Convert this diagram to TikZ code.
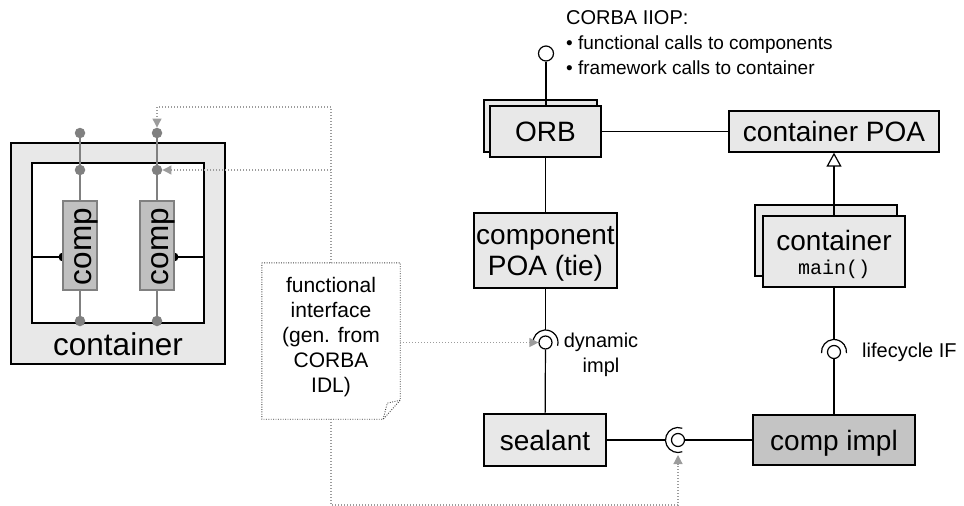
\documentclass[tikz,border=0pt]{standalone}
\usepackage{fontspec}
\setmainfont{Liberation Sans}
\newfontfamily\monofont{Liberation Mono}
\usetikzlibrary{arrows.meta,calc}
\definecolor{boxfill}{HTML}{E8E8E8}
\definecolor{darkfill}{HTML}{C4C4C4}
\definecolor{compfill}{HTML}{C0C0C0}
\definecolor{wire}{HTML}{808080}
\definecolor{hintc}{HTML}{9C9C9C}
\begin{document}
\begin{tikzpicture}[x=1pt,y=-1pt,
  box/.style={draw=black, line width=1.3pt, fill=boxfill, inner sep=0pt, align=center},
  onebox/.style={box, text height=20pt, text depth=0pt},
  bigf/.style={font=\fontsize{28}{31}\selectfont},
  hugef/.style={font=\fontsize{31.5}{34}\selectfont},
  smallf/.style={font=\fontsize{20}{25}\selectfont},
  notef/.style={font=\fontsize{21}{25}\selectfont},
  monof/.style={font=\monofont\fontsize{20}{22}\selectfont},
  conn/.style={draw=black, line width=1.2pt},
  wireline/.style={draw=wire, line width=2.8pt},
  dotn/.style={circle, fill=wire, minimum size=10.5pt, inner sep=0pt},
  ballst/.style={circle, draw=black, fill=white, line width=1.2pt, minimum size=13pt, inner sep=0pt},
  hint/.style={draw=hintc, line width=1.2pt, dash pattern=on 1.2pt off 1.8pt, -{Triangle[length=9pt,width=9pt]}},
  notedot/.style={draw=black!75, line width=0.9pt, dash pattern=on 0.9pt off 1.5pt},
  compbox/.style={draw=wire, line width=2pt, fill=compfill, minimum width=34pt, minimum height=89pt, inner sep=0pt},
  txt/.style={inner sep=0pt}]
\useasboundingbox (0,0) rectangle (964,506);

% ---------------- left: container with two components
\node[draw=black, line width=1.4pt, fill=boxfill, minimum width=214pt, minimum height=221pt, inner sep=0pt] (outer) at (118,253.5) {};
\node[draw=black, line width=1.3pt, fill=white, minimum width=172pt, minimum height=160pt, inner sep=0pt] (inner) at (118,243) {};
\node[hugef, txt, anchor=base] (contlabel) at (118,355) {container};
\coordinate (hl) at (0,257);
\coordinate (c1) at (80,245.5);
\coordinate (c2) at (157,245.5);
% horizontal links with half disks
\draw[conn] (inner.west |- hl) -- (63,257);
\fill (63,257) ++(0,-4.5) arc[start angle=-90, end angle=-270, radius=4.5] -- cycle;
\draw[conn] (inner.east |- hl) -- (174,257);
\fill (174,257) ++(0,-4.5) arc[start angle=-90, end angle=90, radius=4.5] -- cycle;
\node[compbox] (comp1) at (c1) {};
\node[compbox] (comp2) at (c2) {};
\node[hugef, txt, rotate=90, anchor=base] (comp1t) at (91,246.5) {comp};
\node[hugef, txt, rotate=90, anchor=base] (comp2t) at (168,246.5) {comp};
\node[dotn] (t1) at (80,133) {};
\node[dotn] (m1) at (80,170) {};
\node[dotn] (b1) at (80,321) {};
\node[dotn] (t2) at (157,133) {};
\node[dotn] (m2) at (157,170) {};
\node[dotn] (b2) at (157,321) {};
\draw[wireline] (t1) -- (m1);
\draw[wireline] (m1) -- (comp1.north);
\draw[wireline] (comp1.south) -- (b1);
\draw[wireline] (t2) -- (m2);
\draw[wireline] (m2) -- (comp2.north);
\draw[wireline] (comp2.south) -- (b2);

% ---------------- note
\node[minimum width=138pt, minimum height=156pt, inner sep=0pt] (note) at (331,341) {};
\draw[notedot] (note.north west) -- (note.north east) -- ([yshift=19pt]note.south east)
   -- ([xshift=-17pt]note.south east) -- (note.south west) -- cycle;
\draw[notedot] ([xshift=-17pt]note.south east) -- ([xshift=-13pt,yshift=16pt]note.south east) -- ([yshift=19pt]note.south east);
\node[notef, txt, align=center, anchor=north] (notetext) at (331,277.5) {functional\\interface\\(gen. from\\CORBA\\IDL)};

% ---------------- right: boxes
\node[box, minimum width=113pt, minimum height=52pt] (orbback) at (540.5,126) {};
\node[onebox, bigf, minimum width=111pt, minimum height=51pt] (orb) at (545.5,131.5) {ORB};
\node[onebox, bigf, minimum width=210pt, minimum height=41pt] (cpoa) at (834,131.5) {container POA};
\node[box, minimum width=143pt, minimum height=75pt] (compoa) at (545.5,250.5) {};
\node[bigf, txt, align=center] (compoat) at (545.5,254) {component\\POA (tie)};
\node[box, minimum width=142pt, minimum height=71pt] (contback) at (826,240.5) {};
\node[box, minimum width=142pt, minimum height=71pt] (cont) at (834,251.5) {};
\node[bigf, txt, anchor=base] (contt) at (834,250) {container};
\node[monof, txt, anchor=base] (contm) at (834,274) {main()};
\node[onebox, bigf, minimum width=122pt, minimum height=52pt] (sealant) at (545,440) {sealant};
\node[onebox, bigf, fill=darkfill, minimum width=162pt, minimum height=50pt] (impl) at (834,440) {comp impl};

% top lollipop
\node[circle, draw=black, fill=white, line width=1.2pt, minimum size=15pt, inner sep=0pt] (iiop) at (546,53.5) {};
\draw[conn] (iiop) -- (iiop |- orb.north);
\node[smallf, txt, anchor=north west, align=left] (iioptxt) at (566,10) {CORBA IIOP:\\{\fontsize{19}{25}\selectfont\textbullet\ functional calls to components}\\{\fontsize{19}{25}\selectfont\textbullet\ framework calls to container}};

% ORB links
\draw[conn] (orb) -- (cpoa);
\draw[conn] (orb) -- (compoa);
\draw[conn, -{Triangle[open, length=14pt, width=15pt]}] (cont.north) -- (cpoa.south);

% dynamic impl socket
\node[ballst] (dynball) at (545.5,342.5) {};
\coordinate (dyntop) at (545.5,330);
\draw[conn] (dynball.center) ++(-185:12.5) arc[start angle=-185, end angle=15, radius=12.5];
\draw[conn] (compoa) -- (dyntop);
\draw[conn] (dynball) -- (sealant);
\node[smallf, txt, align=center, anchor=north] (dyntxt) at (601,333) {dynamic\\impl};

% lifecycle socket
\node[ballst] (lifeball) at (834,352) {};
\coordinate (lifetop) at (834,339.5);
\draw[conn] (lifeball.center) ++(-185:12.5) arc[start angle=-185, end angle=5, radius=12.5];
\draw[conn] (cont) -- (lifetop);
\draw[conn] (lifeball) -- (impl);
\node[smallf, txt, anchor=west] (lifetxt) at (862,352) {lifecycle IF};

% sealant socket
\node[ballst] (sealball) at (678,440) {};
\coordinate (sealleft) at (665.5,440);
\draw[conn] (sealball.center) ++(-70:12.5) arc[start angle=-70, end angle=-290, radius=12.5];
\draw[conn] (sealant) -- (sealleft);
\draw[conn] (sealball) -- (impl);

% ---------------- dotted hint connectors
\coordinate (h1) at (331,107);
\coordinate (h2) at (331,170);
\coordinate (h4) at (331,505);
\coordinate (sa) at (678,455);
\draw[hint] (note.north) -- (h1) -| (t2.north);
\draw[hint] (h2) -- (m2.east);
\draw[hint] (note.east |- dynball) -- (dynball.west);
\draw[hint] (note.south) -- (h4) -| (sa);
\end{tikzpicture}
\end{document}
